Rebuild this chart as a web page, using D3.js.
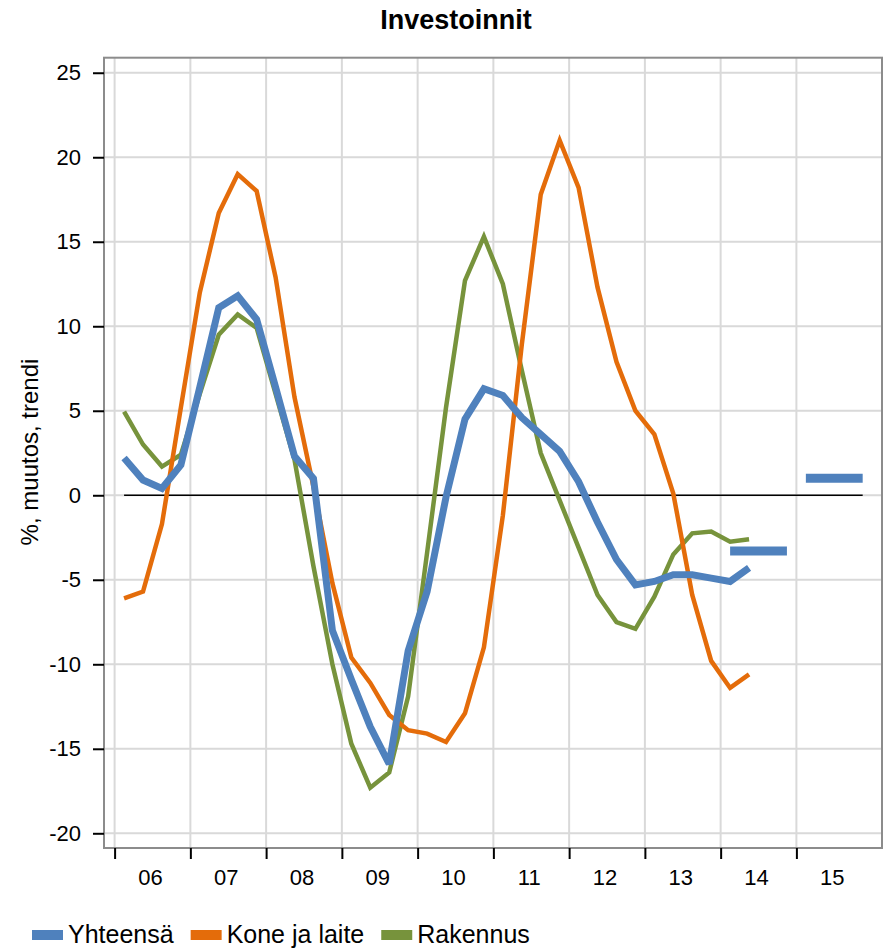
<!DOCTYPE html>
<html>
<head>
<meta charset="utf-8">
<script src="https://cdn.jsdelivr.net/npm/d3@7"></script>
<style>
  html, body { margin: 0; padding: 0; background: #fff; }
  svg { display: block; font-family: "Liberation Sans", Arial, sans-serif; }
</style>
</head>
<body>
<svg id="chart" width="893" height="950"></svg>
<script>
// ---------------- DATA ----------------
const quarters = [
  "2006Q1","2006Q2","2006Q3","2006Q4",
  "2007Q1","2007Q2","2007Q3","2007Q4",
  "2008Q1","2008Q2","2008Q3","2008Q4",
  "2009Q1","2009Q2","2009Q3","2009Q4",
  "2010Q1","2010Q2","2010Q3","2010Q4",
  "2011Q1","2011Q2","2011Q3","2011Q4",
  "2012Q1","2012Q2","2012Q3","2012Q4",
  "2013Q1","2013Q2","2013Q3","2013Q4",
  "2014Q1","2014Q2"
];
const yhteensa = [
  2.2, 0.9, 0.4, 1.8,
  6.4, 11.1, 11.8, 10.4,
  6.4, 2.3, 1.0, -8.0,
  -10.9, -13.7, -15.9, -9.2,
  -5.7, -0.1, 4.5, 6.3,
  5.9, 4.6, 3.6, 2.6,
  0.8, -1.6, -3.8, -5.3,
  -5.1, -4.7, -4.7, -4.9,
  -5.1, -4.3
];
const koneJaLaite = [
  -6.1, -5.7, -1.7, 5.2,
  12.0, 16.7, 19.0, 18.0,
  12.9, 5.8, 0.5, -5.2,
  -9.6, -11.1, -13.0, -13.9,
  -14.1, -14.6, -12.9, -9.0,
  -1.2, 8.9, 17.8, 21.0,
  18.2, 12.3, 7.9, 5.0,
  3.6, 0.1, -5.9, -9.8,
  -11.4, -10.6
];
const rakennus = [
  4.95, 3.0, 1.7, 2.4,
  6.0, 9.5, 10.7, 9.9,
  6.0, 2.1, -4.2, -10.0,
  -14.7, -17.3, -16.4, -11.9,
  -3.4, 5.2, 12.7, 15.3,
  12.5, 7.4, 2.5, -0.3,
  -3.1, -5.9, -7.5, -7.9,
  -6.0, -3.5, -2.25, -2.15,
  -2.75, -2.6
];
// Annual forecasts for Yhteensä
const forecastYears = [2014, 2015];
const forecastYhteensa = [-3.3, 1.0];

const yearLabels = ["06","07","08","09","10","11","12","13","14","15"];
const yearStarts = [2006,2007,2008,2009,2010,2011,2012,2013,2014,2015];
const yTicks = [-20,-15,-10,-5,0,5,10,15,20,25];

const seriesNames = ["Yhteensä", "Kone ja laite", "Rakennus"];
const seriesColors = ["#4f81bd", "#e46c0a", "#77933c"];
const seriesWidths = [7, 4.5, 4.5];

// ---------------- LAYOUT ----------------
const plot = { left: 104, right: 882, top: 57.7, bottom: 848 };
const svg = d3.select("#chart");

const qToYear = q => +q.slice(0,4) + (+q.slice(5) - 0.5) / 4;

const x = d3.scaleLinear().domain([2005.86, 2016.13]).range([plot.left, plot.right]);
const y = d3.scaleLinear().domain([-20.87, 25.89]).range([plot.bottom, plot.top]);

// gridlines
const grid = svg.append("g");
grid.selectAll("line.h").data(yTicks).join("line")
  .attr("x1", plot.left).attr("x2", plot.right)
  .attr("y1", d => y(d)).attr("y2", d => y(d))
  .attr("stroke", "#d9d9d9").attr("stroke-width", 2);
grid.selectAll("line.v").data(yearStarts).join("line")
  .attr("x1", d => x(d)).attr("x2", d => x(d))
  .attr("y1", plot.top).attr("y2", plot.bottom)
  .attr("stroke", "#d9d9d9").attr("stroke-width", 2);

// frame
svg.append("rect")
  .attr("x", plot.left).attr("y", plot.top)
  .attr("width", plot.right - plot.left).attr("height", plot.bottom - plot.top)
  .attr("fill", "none").attr("stroke", "#8c8c8c").attr("stroke-width", 2);

// y axis
const yAxis = d3.axisLeft(y).tickValues(yTicks).tickSize(11).tickPadding(12)
  .tickFormat(d => String(d));
const gy = svg.append("g").attr("transform", `translate(${plot.left},0)`).call(yAxis);
gy.select(".domain").remove();
gy.selectAll(".tick line").attr("stroke", "#000").attr("stroke-width", 2);
gy.selectAll(".tick text").attr("font-size", 22).attr("fill", "#000")
  .attr("font-family", "Liberation Sans, Arial, sans-serif");

// x axis ticks at year starts
const xAxis = d3.axisBottom(x).tickValues(yearStarts).tickSize(11).tickFormat("");
const gx = svg.append("g").attr("transform", `translate(0,${plot.bottom})`).call(xAxis);
gx.select(".domain").remove();
gx.selectAll(".tick line").attr("stroke", "#000").attr("stroke-width", 2);

// x labels centred in each year
svg.append("g").selectAll("text").data(yearLabels).join("text")
  .attr("x", (d, i) => x(yearStarts[i] + 0.5) - 2)
  .attr("y", 885)
  .attr("text-anchor", "middle")
  .attr("font-size", 22)
  .attr("fill", "#000")
  .text(d => d);

// zero line
svg.append("line")
  .attr("x1", x(qToYear("2006Q1"))).attr("x2", x(qToYear("2015Q4")))
  .attr("y1", y(0)).attr("y2", y(0))
  .attr("stroke", "#000").attr("stroke-width", 1.6);

// series lines
const seriesData = [yhteensa, koneJaLaite, rakennus];
const line = d3.line()
  .x((d, i) => x(qToYear(quarters[i])))
  .y(d => y(d));
const drawOrder = [2, 1, 0];
drawOrder.forEach(k => {
  svg.append("path")
    .datum(seriesData[k])
    .attr("d", line)
    .attr("fill", "none")
    .attr("stroke", seriesColors[k])
    .attr("stroke-width", seriesWidths[k])
    .attr("stroke-linejoin", "miter")
    .attr("stroke-miterlimit", 3);
});

// forecast dashes (Q1 centre to Q4 centre of each year)
svg.append("g").selectAll("line").data(forecastYhteensa).join("line")
  .attr("x1", (d, i) => x(forecastYears[i] + 0.125))
  .attr("x2", (d, i) => x(forecastYears[i] + 0.875))
  .attr("y1", d => y(d)).attr("y2", d => y(d))
  .attr("stroke", seriesColors[0]).attr("stroke-width", 9);

// title
svg.append("text")
  .attr("x", 456).attr("y", 29)
  .attr("text-anchor", "middle")
  .attr("font-size", 27).attr("font-weight", "bold")
  .attr("fill", "#000")
  .text("Investoinnit");

// y-axis label
svg.append("text")
  .attr("transform", "translate(38,452) rotate(-90)")
  .attr("text-anchor", "middle")
  .attr("font-size", 24)
  .attr("fill", "#000")
  .text("%, muutos, trendi");

// legend
const legend = svg.append("g");
let lx = 32;
const ly = 935;
seriesNames.forEach((name, k) => {
  legend.append("line")
    .attr("x1", lx).attr("x2", lx + 31)
    .attr("y1", ly).attr("y2", ly)
    .attr("stroke", seriesColors[k]).attr("stroke-width", 10);
  const t = legend.append("text")
    .attr("x", lx + 36).attr("y", ly + 8)
    .attr("font-size", 25).attr("fill", "#000")
    .text(name);
  lx += 36 + t.node().getComputedTextLength() + 17;
});
</script>
</body>
</html>
